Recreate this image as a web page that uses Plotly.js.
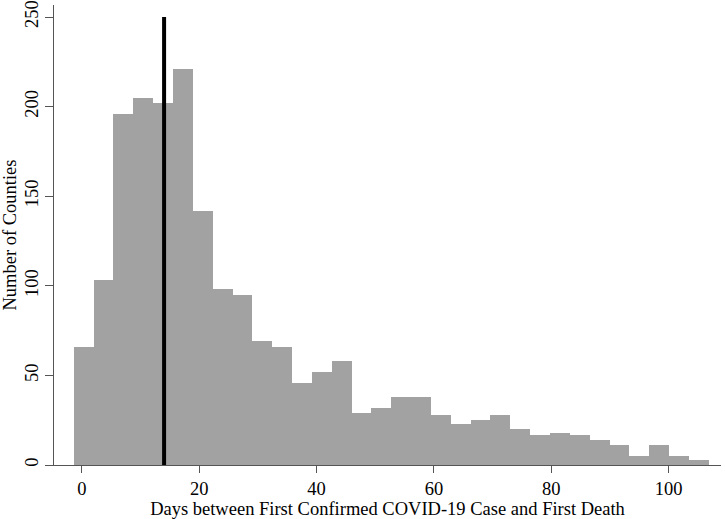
<!DOCTYPE html>
<html>
<head>
<meta charset="utf-8">
<script src="https://cdn.plot.ly/plotly-3.0.1.min.js"></script>
<style>html,body{margin:0;padding:0;background:#fff;}#chart{width:725px;height:519px;}</style>
</head>
<body>
<div id="chart"></div>
<script>
// Histogram bin definition (days) and counts
const binStart = -1.4;
const binWidth = 3.383;
const counts = [66, 103, 196, 205, 202, 221, 142, 98, 95, 69, 66, 46, 52, 58, 29, 32,
                38, 38, 28, 23, 25, 28, 20, 17, 18, 17, 14, 11, 5, 11, 5, 3];
const medianDays = [14, 14];
const medianLine = [0, 250];
const xTicks = [0, 20, 40, 60, 80, 100];
const yTicks = [0, 50, 100, 150, 200, 250];

const centers = counts.map((_, i) => binStart + (i + 0.5) * binWidth);

const font = {family: 'Liberation Serif, Times New Roman, serif', size: 18.5, color: '#000'};

const traces = [
  {
    type: 'bar',
    x: centers,
    y: counts,
    width: counts.map(() => binWidth),
    marker: {color: '#a2a2a2', line: {width: 0}},
    hoverinfo: 'x+y'
  },
  {
    type: 'scatter',
    mode: 'lines',
    x: medianDays,
    y: medianLine,
    line: {color: '#000', width: 4},
    hoverinfo: 'skip'
  }
];

const layout = {
  width: 725,
  height: 519,
  margin: {l: 54, r: 4, t: 5, b: 54},
  paper_bgcolor: '#fff',
  plot_bgcolor: '#fff',
  showlegend: false,
  bargap: 0,
  font: font,
  xaxis: {
    range: [-4.77, 108.95],
    tickvals: xTicks,
    ticktext: xTicks.map(String),
    ticks: 'outside',
    ticklen: 7,
    tickcolor: '#555',
    showline: true,
    linecolor: '#555',
    linewidth: 1,
    showgrid: false,
    zeroline: false,
    tickfont: font,
    title: {text: 'Days between First Confirmed COVID-19 Case and First Death', font: font, standoff: 2}
  },
  yaxis: {
    range: [0, 256.7],
    tickvals: yTicks,
    ticktext: yTicks.map(String),
    tickangle: -90,
    ticks: 'outside',
    ticklen: 8,
    tickcolor: '#555',
    showline: true,
    linecolor: '#555',
    linewidth: 1,
    showgrid: false,
    zeroline: false,
    tickfont: font,
    title: {text: 'Number of Counties', font: font, standoff: 4}
  }
};

Plotly.newPlot('chart', traces, layout, {displayModeBar: false, staticPlot: true});
</script>
</body>
</html>
